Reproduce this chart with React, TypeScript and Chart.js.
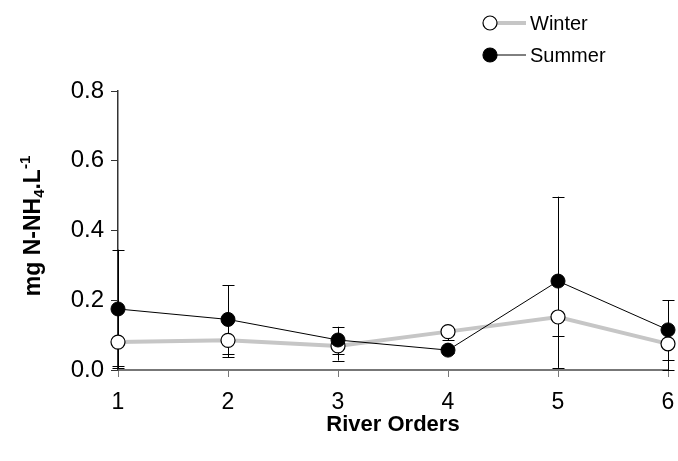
import React, { useEffect, useRef } from "react";
import { Chart, registerables } from "chart.js";

Chart.register(...registerables);

// Ammonium concentration by river order, winter vs summer
const riverOrders = [1, 2, 3, 4, 5, 6];
const winterMean = [0.08, 0.085, 0.069, 0.11, 0.152, 0.075];
const winterLow = [0.012, 0.045, 0.027, 0.085, 0.097, 0.0];
const summerMean = [0.175, 0.145, 0.086, 0.057, 0.255, 0.115];
const summerLow = [0.005, 0.036, 0.045, 0.05, 0.006, 0.03];
const summerHigh = [0.345, 0.243, 0.124, 0.065, 0.497, 0.2];
const yTickValues = [0, 0.2, 0.4, 0.6, 0.8];
const seriesNames = ["Winter", "Summer"];

const FONT = "'Liberation Sans', Arial, Helvetica, sans-serif";
const WINTER_LINE = "#c6c6c6";

// Vertical error bars with caps, drawn beneath lines and markers
const errorBarPlugin = {
  id: "errorBars",
  beforeDatasetsDraw(chart: any) {
    const { ctx, scales } = chart;
    const x = scales.x;
    const y = scales.y;
    const cap = 6;
    const bars: Array<[number, number, number]> = [];
    riverOrders.forEach((o, i) => {
      bars.push([o, summerLow[i], summerHigh[i]]);
      bars.push([o, winterLow[i], winterMean[i]]);
    });
    ctx.save();
    ctx.strokeStyle = "#000";
    ctx.lineWidth = 1;
    bars.forEach(([o, lo, hi]) => {
      const px = Math.round(x.getPixelForValue(o)) + 0.5;
      const y1 = y.getPixelForValue(lo);
      const y2 = y.getPixelForValue(hi);
      ctx.beginPath();
      ctx.moveTo(px, y1);
      ctx.lineTo(px, y2);
      ctx.stroke();
      [lo, hi].forEach((v) => {
        const py = Math.round(y.getPixelForValue(v)) + 0.5;
        ctx.beginPath();
        ctx.moveTo(px - cap, py);
        ctx.lineTo(px + cap, py);
        ctx.stroke();
      });
    });
    ctx.restore();
  },
};

// Axis titles (with sub/superscripts) and the legend
const decorPlugin = {
  id: "decor",
  afterDraw(chart: any) {
    const { ctx, chartArea } = chart;
    ctx.save();

    // x title
    ctx.fillStyle = "#000";
    ctx.font = `bold 22px ${FONT}`;
    ctx.textAlign = "center";
    ctx.textBaseline = "middle";
    ctx.fillText("River Orders", (chartArea.left + chartArea.right) / 2, 425);

    // y title, rotated
    const parts: Array<[string, string]> = [
      ["mg N-NH", "n"],
      ["4", "sub"],
      [".L", "n"],
      ["-1", "sup"],
    ];
    const big = `bold 23px ${FONT}`;
    const small = `bold 15px ${FONT}`;
    let total = 0;
    parts.forEach(([t, k]) => {
      ctx.font = k === "n" ? big : small;
      total += ctx.measureText(t).width;
    });
    ctx.translate(32, 226);
    ctx.rotate(-Math.PI / 2);
    ctx.textAlign = "left";
    ctx.textBaseline = "alphabetic";
    let cx = -total / 2;
    const base = 8;
    parts.forEach(([t, k]) => {
      ctx.font = k === "n" ? big : small;
      const dy = k === "sub" ? 4 : k === "sup" ? -10 : 0;
      ctx.fillText(t, cx, base + dy);
      cx += ctx.measureText(t).width;
    });
    ctx.setTransform(1, 0, 0, 1, 0, 0);

    // legend
    const rows = [
      { name: seriesNames[0], y: 23, line: WINTER_LINE, lw: 4, fill: "#fff" },
      { name: seriesNames[1], y: 55, line: "#000", lw: 1, fill: "#000" },
    ];
    rows.forEach((r) => {
      ctx.strokeStyle = r.line;
      ctx.lineWidth = r.lw;
      ctx.beginPath();
      ctx.moveTo(490, r.y);
      ctx.lineTo(526, r.y);
      ctx.stroke();
      ctx.beginPath();
      ctx.arc(490, r.y, 7, 0, Math.PI * 2);
      ctx.fillStyle = r.fill;
      ctx.fill();
      ctx.strokeStyle = "#000";
      ctx.lineWidth = 1.2;
      ctx.stroke();
      ctx.fillStyle = "#000";
      ctx.font = `20px ${FONT}`;
      ctx.textAlign = "left";
      ctx.textBaseline = "middle";
      ctx.fillText(r.name, 530, r.y + 1);
    });
    ctx.restore();
  },
};

export default function App() {
  const canvasRef = useRef<HTMLCanvasElement | null>(null);

  useEffect(() => {
    document.body.style.margin = "0";
    const canvas = canvasRef.current;
    if (!canvas) return;

    const chart = new Chart(canvas, {
      type: "line",
      data: {
        datasets: [
          {
            label: seriesNames[1],
            data: riverOrders.map((o, i) => ({ x: o, y: summerMean[i] })),
            borderColor: "#000",
            borderWidth: 1,
            backgroundColor: "#000",
            pointBackgroundColor: "#000",
            pointBorderColor: "#000",
            pointBorderWidth: 1,
            pointRadius: 7,
            tension: 0,
            clip: false as any,
            order: 0,
          },
          {
            label: seriesNames[0],
            data: riverOrders.map((o, i) => ({ x: o, y: winterMean[i] })),
            borderColor: WINTER_LINE,
            borderWidth: 4,
            backgroundColor: "#fff",
            pointBackgroundColor: "#fff",
            pointBorderColor: "#000",
            pointBorderWidth: 1.2,
            pointRadius: 7,
            tension: 0,
            clip: false as any,
            order: 1,
          },
        ],
      },
      options: {
        animation: false,
        responsive: false,
        maintainAspectRatio: false,
        layout: { padding: { top: 91, right: 10, left: 0, bottom: 0 } },
        plugins: {
          legend: { display: false },
          tooltip: { enabled: false },
          title: { display: false },
        },
        scales: {
          x: {
            type: "linear",
            min: 1,
            max: 6,
            afterFit: (s: any) => {
              s.height = 91;
              s.paddingLeft = 0;
              s.paddingRight = 0;
            },
            afterBuildTicks: (s: any) => {
              s.ticks = riverOrders.map((v) => ({ value: v }));
            },
            ticks: {
              color: "#000",
              font: { family: FONT, size: 23 },
              padding: 12,
              callback: (v: any) => String(v),
              maxRotation: 0,
            },
            grid: {
              drawOnChartArea: false,
              drawTicks: true,
              tickLength: 7,
              color: "#777",
              lineWidth: 1,
            },
            border: { display: true, color: "#777", width: 2 },
          },
          y: {
            type: "linear",
            min: 0,
            max: 0.8,
            afterFit: (s: any) => {
              s.width = 118;
              s.paddingTop = 0;
              s.paddingBottom = 0;
            },
            afterBuildTicks: (s: any) => {
              s.ticks = yTickValues.map((v) => ({ value: v }));
            },
            ticks: {
              color: "#000",
              font: { family: FONT, size: 24 },
              padding: 7,
              callback: (v: any) => Number(v).toFixed(1),
            },
            grid: {
              drawOnChartArea: false,
              drawTicks: true,
              tickLength: 7,
              color: "#333",
              lineWidth: 1,
            },
            border: { display: true, color: "#333", width: 1.5 },
          },
        },
      },
      plugins: [errorBarPlugin, decorPlugin],
    });

    return () => chart.destroy();
  }, []);

  return (
    <div style={{ width: 678, height: 461 }}>
      <canvas ref={canvasRef} width={678} height={461} style={{ display: "block" }} />
    </div>
  );
}
